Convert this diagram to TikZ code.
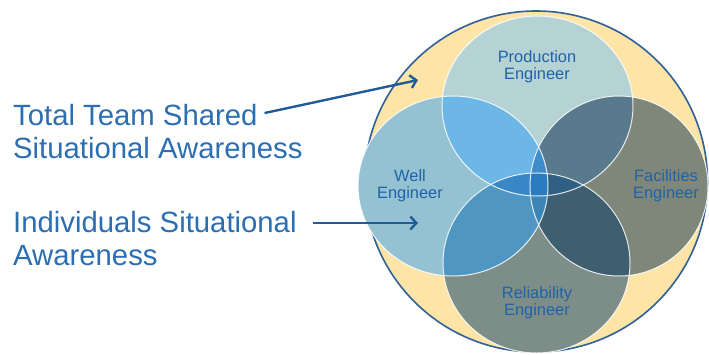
\documentclass[tikz,border=0pt]{standalone}
\usepackage{fontspec}
\setmainfont{Liberation Sans}
\usetikzlibrary{arrows.meta}

% palette
\definecolor{sand}{HTML}{FEE5A7}
\definecolor{ringblue}{HTML}{2F6199}
\definecolor{arrowblue}{HTML}{1F5C99}
\definecolor{captionblue}{HTML}{2C6EB2}
\definecolor{labelblue}{HTML}{1F62A8}
\definecolor{prodfill}{HTML}{B5D3D5}
\definecolor{wellfill}{HTML}{94C2D3}
\definecolor{facfill}{HTML}{7F877A}
\definecolor{relfill}{HTML}{7C8E87}
\definecolor{pwfill}{HTML}{6CB7E6}
\definecolor{pffill}{HTML}{587A8C}
\definecolor{wrfill}{HTML}{5096C3}
\definecolor{frfill}{HTML}{3E5F70}
\definecolor{pwffill}{HTML}{3F8CCB}
\definecolor{pwrfill}{HTML}{3A87C7}
\definecolor{pfrfill}{HTML}{2F5F82}
\definecolor{wfrfill}{HTML}{3B86B7}
\definecolor{allfill}{HTML}{2C7BBF}

\tikzset{
  caption/.style={anchor=base west, inner sep=0pt, text=captionblue,
    font=\fontsize{29.3}{33}\selectfont},
  rolelabel/.style={align=center, inner sep=0pt, text=labelblue,
    font=\fontsize{16.4}{17}\selectfont},
  pointer/.style={draw=arrowblue, line width=2.4pt,
    -{Straight Barb[length=6pt, width=13pt, line width=2.4pt]}},
  rim/.style={draw=white, draw opacity=0.85, line width=1pt}
}

% the four role circles
\def\cP{(537.5,106) ellipse [x radius=95.5pt, y radius=90pt]}
\def\cW{(453,186) ellipse [x radius=95pt, y radius=90pt]}
\def\cF{(619,186) ellipse [x radius=89pt, y radius=90pt]}
\def\cR{(536.5,263) ellipse [x radius=93.5pt, y radius=90pt]}

\begin{document}
\begin{tikzpicture}[x=1pt, y=-1pt]
\useasboundingbox (0,0) rectangle (709,354);
\fill[white] (0,0) rectangle (709,354);

% shared awareness envelope
\path[draw=ringblue, line width=1.6pt, fill=sand]
  (536,181.5) ellipse [x radius=171.5pt, y radius=170.5pt];

% single circles
\fill[prodfill] \cP;
\fill[wellfill] \cW;
\fill[facfill] \cF;
\fill[relfill] \cR;

% pairwise overlaps
\begin{scope}\clip \cP; \fill[pwfill] \cW; \end{scope}
\begin{scope}\clip \cP; \fill[pffill] \cF; \end{scope}
\begin{scope}\clip \cW; \fill[wrfill] \cR; \end{scope}
\begin{scope}\clip \cF; \fill[frfill] \cR; \end{scope}

% triple overlaps
\begin{scope}\clip \cP; \clip \cW; \fill[pwffill] \cF; \end{scope}
\begin{scope}\clip \cP; \clip \cW; \fill[pwrfill] \cR; \end{scope}
\begin{scope}\clip \cP; \clip \cF; \fill[pfrfill] \cR; \end{scope}
\begin{scope}\clip \cW; \clip \cF; \fill[wfrfill] \cR; \end{scope}

% centre where all four meet
\begin{scope}\clip \cP; \clip \cW; \clip \cF; \fill[allfill] \cR; \end{scope}

% circle rims
\path[rim] \cP;
\path[rim] \cW;
\path[rim] \cF;
\path[rim] \cR;

% role labels
\node[rolelabel] (prod) at (537,67)  {Production\\Engineer};
\node[rolelabel] (well) at (410,186) {Well\\Engineer};
\node[rolelabel] (fac)  at (666,186) {Facilities\\Engineer};
\node[rolelabel] (rel)  at (537,303) {Reliability\\Engineer};

% captions on the left
\node[caption] (team1) at (13,125) {Total Team Shared};
\node[caption] (team2) at (13,158) {Situational Awareness};
\node[caption] (ind1)  at (13,232) {Individuals Situational};
\node[caption] (ind2)  at (13,265) {Awareness};

% pointers into the diagram
\coordinate (teamtip) at (418,80);
\coordinate (indtip)  at (418,223);
\draw[pointer, shorten <=7pt]  (team1.east) -- (teamtip);
\draw[pointer, shorten <=16pt] (ind1.east |- indtip) -- (indtip);
\end{tikzpicture}
\end{document}
